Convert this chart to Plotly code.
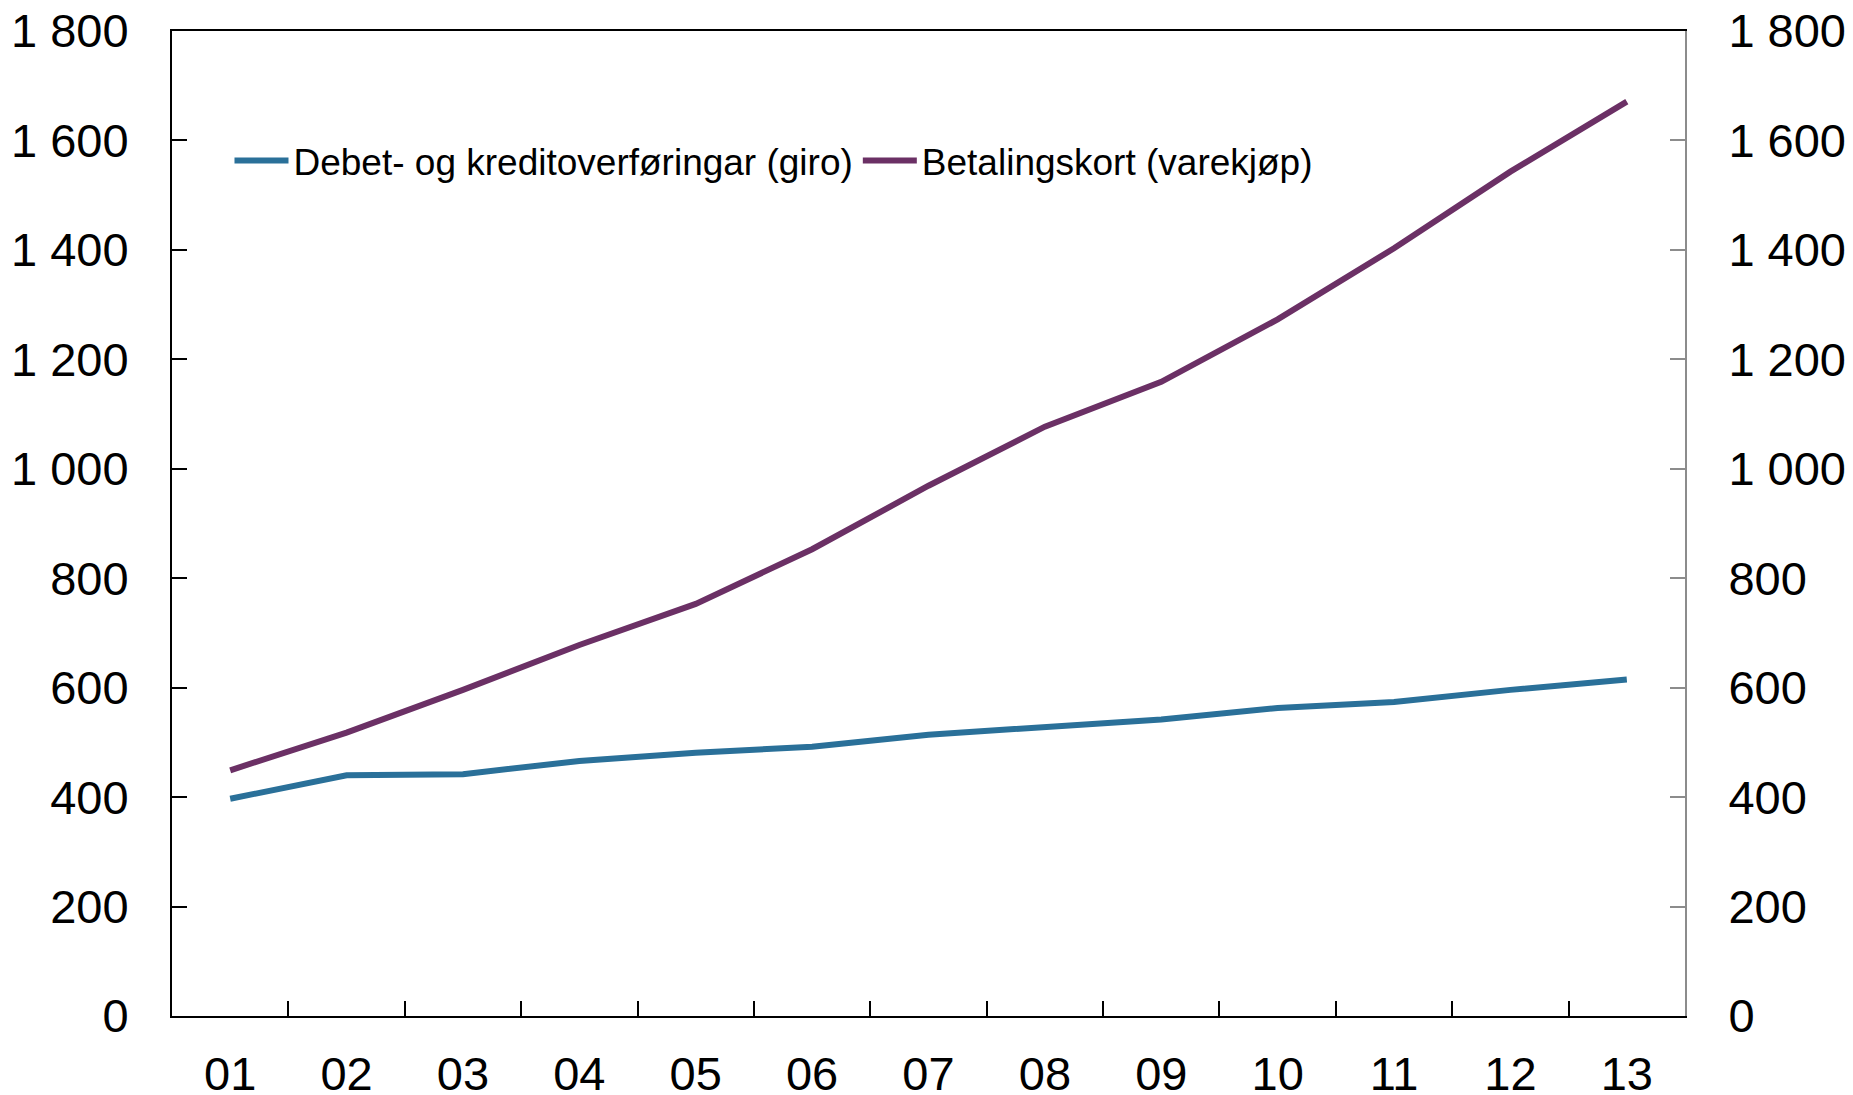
import plotly.graph_objects as go

# år (2001-2013), vist som tosifra kategoriar
aar = ["01", "02", "03", "04", "05", "06", "07", "08", "09", "10", "11", "12", "13"]

giro = [397, 440, 442, 466, 481, 492, 514, 529, 542, 563, 574, 596, 615]
betalingskort = [449, 518, 596, 678, 753, 853, 969, 1077, 1159, 1273, 1403, 1543, 1671]

namn_giro = "Debet- og kreditoverføringar (giro)"
namn_kort = "Betalingskort (varekjøp)"

FARGE_GIRO = "#2A7099"
FARGE_KORT = "#6B3065"
SKRIFT = "Liberation Sans, Arial, sans-serif"

fig = go.Figure()
fig.add_trace(go.Scatter(x=aar, y=giro, name=namn_giro, mode="lines",
                         line=dict(color=FARGE_GIRO, width=6)))
fig.add_trace(go.Scatter(x=aar, y=betalingskort, name=namn_kort, mode="lines",
                         line=dict(color=FARGE_KORT, width=6)))

# sida har 8 px body-marg, så figuren blir flytta litt ned/til høgre
fig.update_layout(
    width=1845, height=1095,
    margin=dict(l=164, r=168, t=23, b=87),
    paper_bgcolor="white", plot_bgcolor="white",
    font=dict(family=SKRIFT, size=47, color="black"),
    separators=", ",
    showlegend=True,
    legend=dict(orientation="h", x=0.038, xanchor="left", y=0.868, yanchor="middle",
                font=dict(size=37), bgcolor="rgba(0,0,0,0)", itemwidth=54,
                tracegroupgap=0),
)

fig.update_xaxes(
    type="category", range=[-0.5, 12.5], tickson="boundaries", ticks="inside",
    ticklen=15, tickwidth=2, automargin=False,
    tickcolor="black", showline=True, linecolor="black", linewidth=2, mirror=True,
    showgrid=False, zeroline=False, ticklabelstandoff=16,
)
fig.update_yaxes(
    range=[0, 1800], dtick=200, tickformat=",d", ticks="inside", ticklen=15, tickwidth=2,
    tickcolor="black", showline=True, linecolor="black", linewidth=2, automargin=False,
    showgrid=False, zeroline=False, ticklabelstandoff=32, ticklabeloverflow="allow",
)
# høgre akse, grå
fig.update_layout(yaxis2=dict(
    overlaying="y", side="right", matches="y", range=[0, 1800], dtick=200, tickformat=",d",
    ticks="inside", ticklen=15, tickwidth=2, tickcolor="#8c8c8c", automargin=False,
    showline=True, linecolor="#8c8c8c", linewidth=2, showgrid=False, zeroline=False,
    ticklabelstandoff=32, ticklabeloverflow="allow",
))
fig.add_trace(go.Scatter(x=aar, y=giro, yaxis="y2", mode="lines", showlegend=False,
                         hoverinfo="skip", line=dict(color="rgba(0,0,0,0)", width=0)))

fig.write_html("out.html")
